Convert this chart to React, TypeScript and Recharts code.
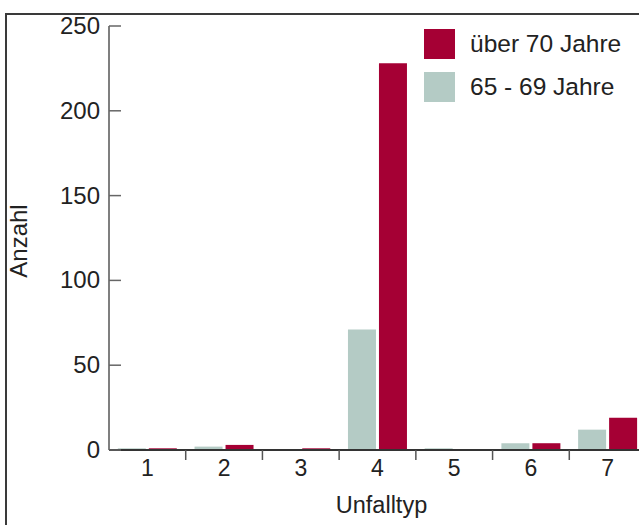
import { BarChart, Bar, XAxis, YAxis } from "recharts";

const categories = ["1", "2", "3", "4", "5", "6", "7"];
const age6569 = [1, 2, 0, 71, 1, 4, 12];
const over70 = [1, 3, 1, 228, 0, 4, 19];
const yTicks = [0, 50, 100, 150, 200, 250];

const data = categories.map((c, i) => ({
  typ: c,
  jung: age6569[i],
  alt: over70[i],
}));

const RED = "#a50034";
const GREY = "#b4cbc5";
const FONT = "'Liberation Sans', Arial, sans-serif";

const series = [
  { key: "alt", name: "über 70 Jahre", color: RED },
  { key: "jung", name: "65 - 69 Jahre", color: GREY },
];

const W = 660;
const H = 525;
const YW = 60;
const XH = 60;
const M = { top: 26, right: 14, left: 109 - YW, bottom: 75 - XH };
const BAND = (W - 109 - M.right) / categories.length;

function XTick(props: any) {
  const { x, y, payload } = props;
  return (
    <g>
      <line x1={x + BAND / 2} x2={x + BAND / 2} y1={y} y2={y + 10} stroke="#555" strokeWidth={1.5} />
      <text x={x} y={y + 26} textAnchor="middle" fontSize={23} fill="#222" fontFamily={FONT}>
        {payload.value}
      </text>
    </g>
  );
}

function YTick(props: any) {
  const { x, y, payload } = props;
  return (
    <g>
      <line x1={x} x2={x + 12} y1={y} y2={y} stroke="#666" strokeWidth={1.5} />
      <text x={x - 9} y={y + 8} textAnchor="end" fontSize={24} fill="#222" fontFamily={FONT}>
        {payload.value}
      </text>
    </g>
  );
}

export default function App() {
  return (
    <div style={{ position: "absolute", left: 0, top: 0, width: 639, height: 525, overflow: "hidden", background: "#fff" }}>
      <div
        style={{
          position: "absolute",
          left: 5,
          top: 13,
          width: 700,
          height: 600,
          border: "2px solid #3a3a3a",
        }}
      />
      <div style={{ position: "absolute", left: 0, top: 0 }}>
        <BarChart
          width={W}
          height={H}
          data={data}
          margin={M}
          barCategoryGap="11.5%"
          barGap={3}
        >
          <XAxis
            dataKey="typ"
            height={XH}
            tickSize={0}
            tickMargin={0}
            tickLine={false}
            tick={<XTick />}
            interval={0}
            axisLine={{ stroke: "#333", strokeWidth: 2 }}
            label={{
              content: (p: any) => {
                const vb = p.viewBox;
                return (
                  <text x={vb.x + vb.width / 2 + 4} y={vb.y + 63} textAnchor="middle" fontSize={23.5} fill="#222" fontFamily={FONT}>
                    Unfalltyp
                  </text>
                );
              },
            }}
          />
          <YAxis
            width={YW}
            domain={[0, 250]}
            ticks={yTicks}
            tickSize={0}
            tickMargin={0}
            tickLine={false}
            tick={<YTick />}
            interval={0}
            axisLine={{ stroke: "#555", strokeWidth: 1.5 }}
            label={{
              content: (p: any) => {
                const vb = p.viewBox;
                const cx = vb.x + vb.width - 91;
                const cy = vb.y + vb.height / 2 + 3;
                return (
                  <text
                    x={cx}
                    y={cy}
                    transform={`rotate(-90, ${cx}, ${cy})`}
                    textAnchor="middle"
                    dominantBaseline="central"
                    fontSize={24}
                    fill="#222"
                    fontFamily={FONT}
                  >
                    Anzahl
                  </text>
                );
              },
            }}
          />
          <Bar dataKey="jung" name="65 - 69 Jahre" fill={GREY} isAnimationActive={false} />
          <Bar dataKey="alt" name="über 70 Jahre" fill={RED} isAnimationActive={false} />
        </BarChart>
      </div>
      <div style={{ position: "absolute", left: 424, top: 22, fontFamily: FONT }}>
        {series.map((s) => (
          <div key={s.key} style={{ display: "flex", alignItems: "center", height: 43 }}>
            <div style={{ width: 31, height: 30, background: s.color, marginRight: 15 }} />
            <span style={{ fontSize: 24.5, color: "#222" }}>{s.name}</span>
          </div>
        ))}
      </div>
    </div>
  );
}
